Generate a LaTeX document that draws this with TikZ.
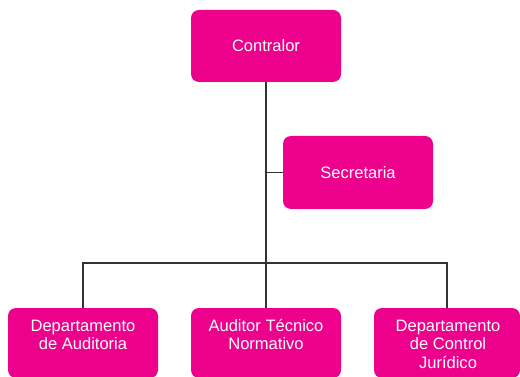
\documentclass[tikz,border=0pt]{standalone}
\usepackage{fontspec}
\setmainfont{Liberation Sans}
\definecolor{mag}{HTML}{EC008C}
\definecolor{linec}{HTML}{333333}
\begin{document}
\begin{tikzpicture}[x=0.75pt,y=-0.75pt,
  box/.style={fill=mag,rounded corners=6pt,inner sep=0pt,minimum width=112.5pt},
  lbl/.style={text=white,font=\fontsize{12.4pt}{13.9pt}\selectfont,align=center,inner sep=0pt},
  conn/.style={draw=linec,line width=1.1pt}]
\useasboundingbox (0,0) rectangle (520,377);
\clip (0,0) rectangle (520,377);
\node[box,minimum height=54pt,lbl] (c) at (266,46) {Contralor};
\node[box,minimum height=54.75pt,lbl] (s) at (358,172.5) {Secretaria};
\node[box,minimum height=52.5pt] (b1) at (83,343) {};
\node[box,minimum height=52.5pt] (b2) at (266,343) {};
\node[box,minimum height=52.5pt,minimum width=109.5pt] (b3) at (447,343) {};
\node[lbl,anchor=north] (t1) at (83,315) {\rule{0pt}{12pt}Departamento\\de Auditoria};
\node[lbl,anchor=north] (t2) at (266,315) {\rule{0pt}{12pt}Auditor Técnico\\Normativo};
\node[lbl,anchor=north] (t3) at (448,315) {\rule{0pt}{12pt}Departamento\\de Control\\Jurídico};
\coordinate (j) at (266,263);
\draw[conn] (c.south) -- (b2.north);
\draw[conn] (s.west) -- (s.west -| c.south);
\draw[conn] (b1.north) |- (j) -| (b3.north);
\end{tikzpicture}
\end{document}
